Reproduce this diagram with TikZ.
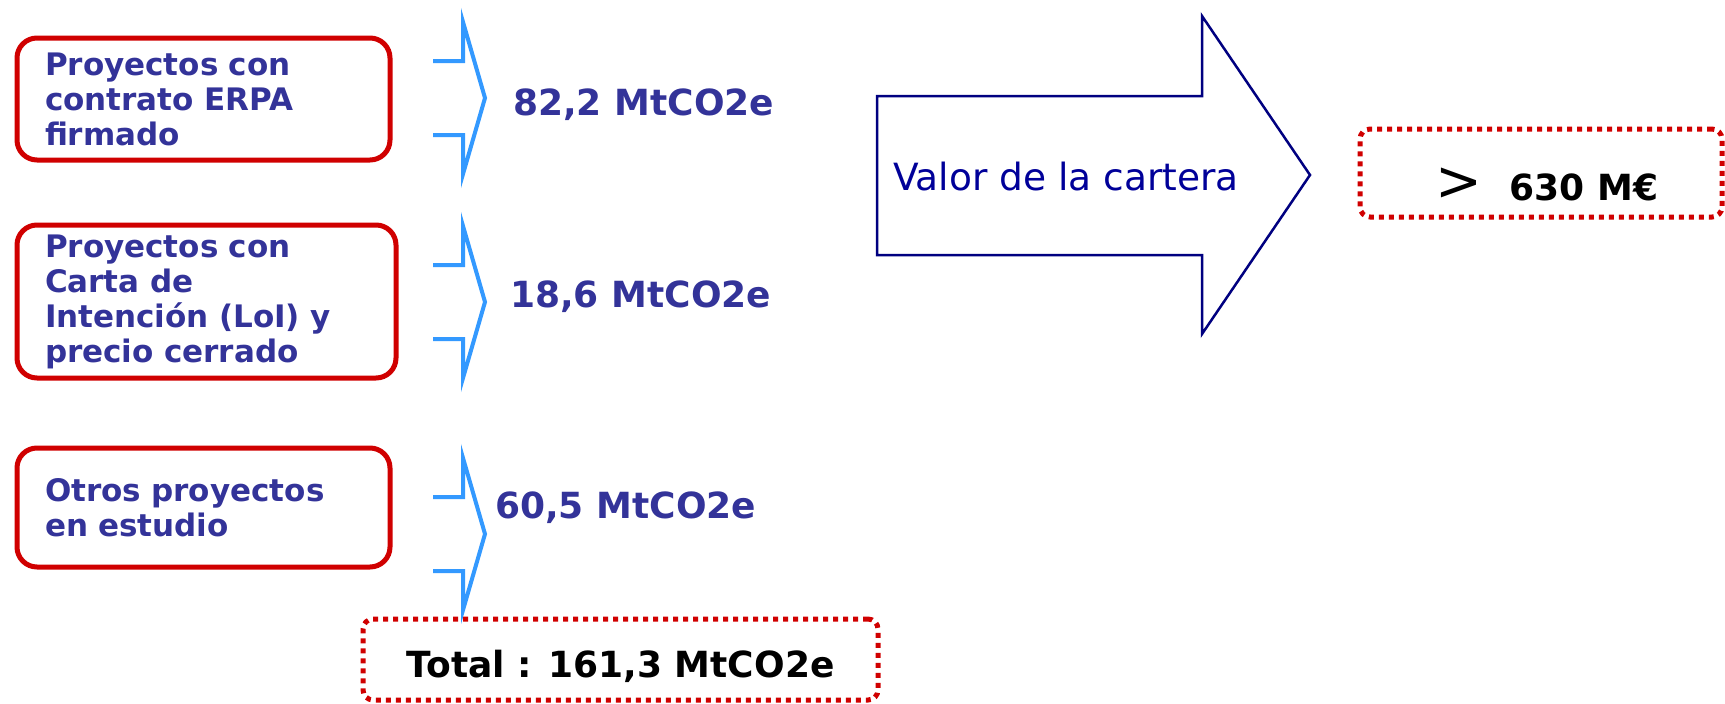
\documentclass[tikz,border=0pt]{standalone}
\usepackage{fontspec}
\setmainfont{DejaVu Sans}
\usepackage{tikz}
\definecolor{boxred}{RGB}{208,0,0}
\definecolor{textblue}{RGB}{51,51,153}
\definecolor{arrowblue}{RGB}{51,153,255}
\definecolor{navyline}{RGB}{0,0,128}
\definecolor{valorblue}{RGB}{0,0,153}

\begin{document}
\begin{tikzpicture}[x=1pt,y=-1pt,
    projbox/.style={draw=boxred,line width=5pt,rounded corners=20pt,align=left,inner xsep=28pt,text=textblue,font=\bfseries\fontsize{31}{35}\selectfont},
    amount/.style={anchor=base west,inner sep=0pt,text=textblue,font=\bfseries\fontsize{36}{40}\selectfont},
    dotbox/.style={draw=boxred,line width=5pt,dash pattern=on 5pt off 5pt,rounded corners=10pt}]
    \useasboundingbox (0,0) rectangle (1725,704);
    \node[projbox,minimum width=373pt,minimum height=122pt,text width=317pt] (erpa) at (203.5,99) {Proyectos con\\contrato ERPA\\firmado};
    \node[projbox,minimum width=379pt,minimum height=153pt,text width=323pt] (loi) at (206.5,301.5) {Proyectos con\\Carta de\\Intención (LoI) y\\precio cerrado};
    \node[projbox,minimum width=373pt,minimum height=119pt,text width=317pt] (estudio) at (203.5,507.5) {Otros proyectos\\en estudio};
    \foreach \y in {98,302,534} {
        \draw[arrowblue,line width=4pt] (433,\y-37) -- (463,\y-37) -- (463,\y-76) -- (485,\y) -- (463,\y+76) -- (463,\y+37) -- (433,\y+37);
    }
    \node[amount] (amerpa) at (513,115) {82,2 MtCO2e};
    \node[amount] (amloi) at (510,307) {18,6 MtCO2e};
    \node[amount] (amestudio) at (495,518) {60,5 MtCO2e};
    \node[dotbox,minimum width=515pt,minimum height=81pt,text height=35pt,text depth=0pt,font=\bfseries\fontsize{36}{40}\selectfont] (total) at (620.5,659.5) {Total : 161,3 MtCO2e};
    \draw[navyline,line width=2.5pt] (877,96) -- (1202,96) -- (1202,16) -- (1310,175) -- (1202,334) -- (1202,255) -- (877,255) -- cycle;
    \node[anchor=base west,inner sep=0pt,text=valorblue,font=\fontsize{37.5}{40}\selectfont] (valor) at (893,190) {Valor de la cartera};
    \node[dotbox,minimum width=362pt,minimum height=88pt,text height=54pt,text depth=0pt,font=\fontsize{36}{40}\selectfont] (precio) at (1541,173) {\hspace*{12pt}{\fontsize{56}{56}\selectfont >}\hspace{27pt}{\bfseries 630 M€}};
\end{tikzpicture}
\end{document}
